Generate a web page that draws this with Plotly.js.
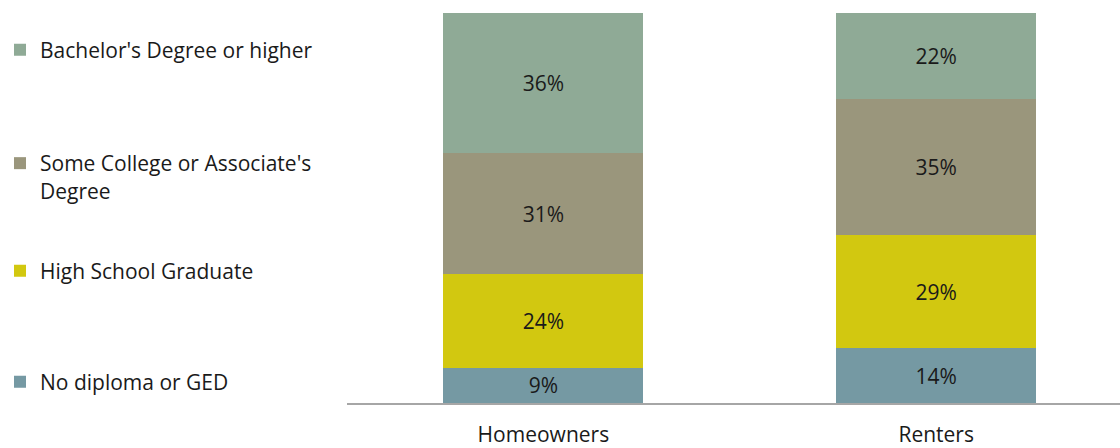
<!DOCTYPE html>
<html>
<head>
<meta charset="utf-8">
<script src="https://cdn.plot.ly/plotly-3.0.1.min.js"></script>
<style>html,body{margin:0;padding:0;background:#fff;}#chart{width:1120px;height:448px;}</style>
</head>
<body>
<div id="chart"></div>
<script>
const categories = ["Homeowners", "Renters"];
const seriesNames = ["No diploma or GED", "High School Graduate", "Some College or Associate's<br>Degree", "Bachelor's Degree or higher"];
const noDiploma = [9, 14];
const highSchool = [24, 29];
const someCollege = [31, 35];
const bachelor = [36, 22];

const colors = ["#7599a3", "#d2c810", "#9a967c", "#8faa96"];
const values = [noDiploma, highSchool, someCollege, bachelor];
const legendIds = ["legend4", "legend3", "legend2", "legend"];
const legendY = [1 - 382/448, 1 - 271/448, 1 - 163/448, 1 - 50/448];
const legendAnchor = ["middle", "middle", "top", "middle"];

const FONT = "Open Sans, sans-serif";
const FS = 21;
const traces = values.map((v, i) => ({
  type: "bar",
  x: categories,
  y: v,
  name: seriesNames[i],
  legend: legendIds[i],
  marker: {color: colors[i], line: {width: 0}},
  width: 0.509,
  text: v.map(d => d + "%"),
  textposition: "inside",
  insidetextanchor: "middle",
  textangle: 0,
  constraintext: "none",
  textfont: {family: FONT, size: FS, color: "#1a1a1a"},
  hoverinfo: "skip"
}));

const layout = {
  width: 1120, height: 448,
  margin: {l: 347, r: 0, t: 13, b: 45},
  paper_bgcolor: "#fff", plot_bgcolor: "#fff",
  barmode: "stack",
  font: {family: FONT, size: FS, color: "#1a1a1a"},
  xaxis: {
    range: [-0.5, 1.468],
    showline: true, linecolor: "#a6a6a6", linewidth: 2,
    ticks: "", showgrid: false, zeroline: false,
    ticklabelstandoff: 12,
    tickfont: {family: FONT, size: FS, color: "#1a1a1a"},
    fixedrange: true
  },
  yaxis: {
    range: [0, 100], visible: false, showgrid: false, zeroline: false, fixedrange: true
  },
  showlegend: true
};
legendIds.forEach((id, i) => {
  layout[id] = {
    xref: "container", yref: "container",
    x: 0, y: legendY[i] + (legendAnchor[i] === "top" ? 20/448 : 0),
    xanchor: "left", yanchor: legendAnchor[i],
    valign: "top",
    bgcolor: "rgba(0,0,0,0)",
    font: {family: FONT, size: FS, color: "#1a1a1a"}
  };
});

Plotly.newPlot("chart", traces, layout, {displayModeBar: false, staticPlot: true});
</script>
</body>
</html>
